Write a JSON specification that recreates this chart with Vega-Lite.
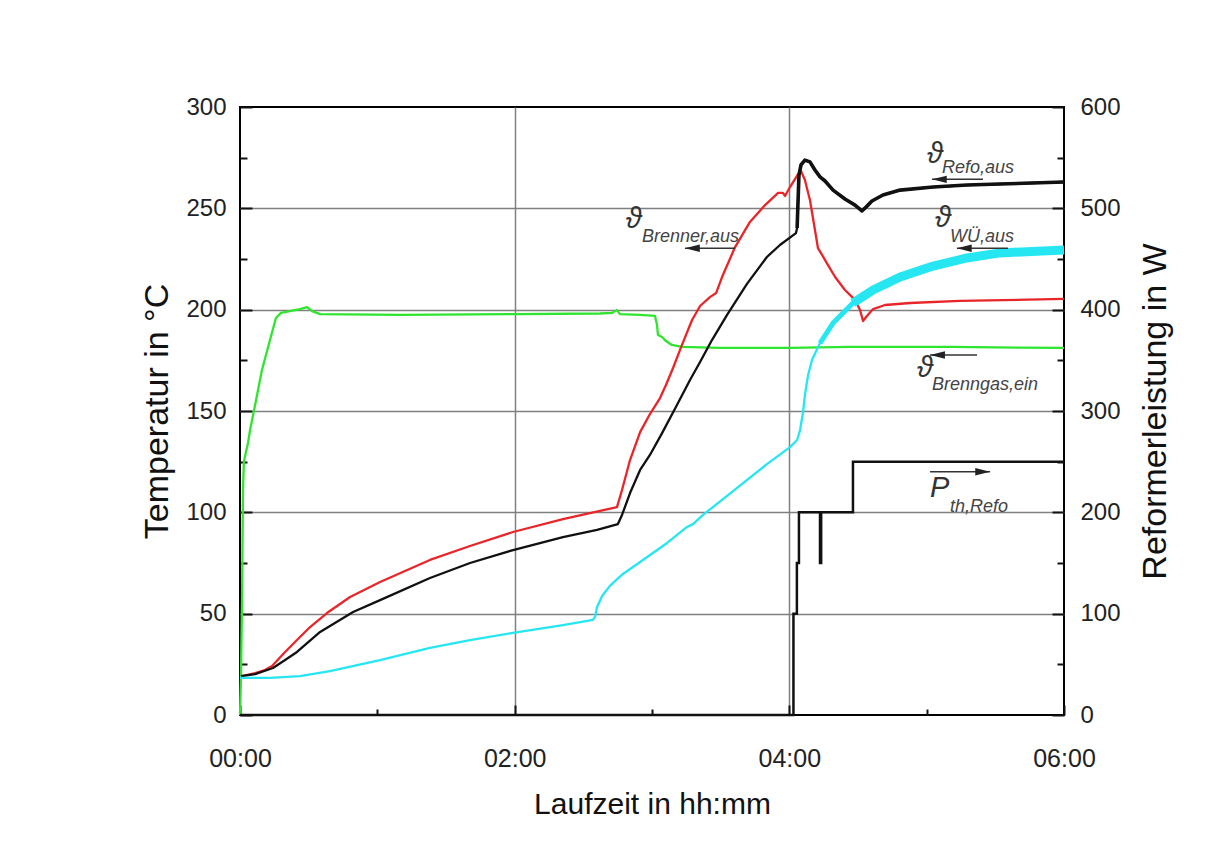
{
  "$schema": "https://vega.github.io/schema/vega-lite/v6.json",
  "width": 824,
  "height": 608,
  "autosize": {"type": "none"},
  "padding": {"left": 240, "top": 107, "right": 166, "bottom": 133},
  "background": "white",
  "config": {
    "view": {"stroke": "#000", "strokeWidth": 2},
    "axis": {
      "domain": false,
      "tickColor": "#111",
      "tickWidth": 2,
      "labelFont": "Liberation Sans",
      "labelColor": "#222",
      "titleFont": "Liberation Sans",
      "titleFontWeight": "normal",
      "titleColor": "#111",
      "gridColor": "#808080",
      "gridWidth": 1.5,
      "labelOverlap": false,
      "labelFlush": false
    }
  },
  "datasets": {
    "temp": [
      {"s": "Brenngas", "t": 0, "v": 0},
      {"s": "Brenngas", "t": 0.4, "v": 17.3},
      {"s": "Brenngas", "t": 0.9, "v": 56.7},
      {"s": "Brenngas", "t": 1.3, "v": 111},
      {"s": "Brenngas", "t": 1.7, "v": 124.8},
      {"s": "Brenngas", "t": 2.6, "v": 129.8},
      {"s": "Brenngas", "t": 3.5, "v": 134.2},
      {"s": "Brenngas", "t": 4.4, "v": 140.6},
      {"s": "Brenngas", "t": 6.6, "v": 153},
      {"s": "Brenngas", "t": 9.6, "v": 170.2},
      {"s": "Brenngas", "t": 13.1, "v": 185},
      {"s": "Brenngas", "t": 15.7, "v": 195.9},
      {"s": "Brenngas", "t": 17.9, "v": 198.4},
      {"s": "Brenngas", "t": 21.8, "v": 199.3},
      {"s": "Brenngas", "t": 26.2, "v": 200.3},
      {"s": "Brenngas", "t": 29.3, "v": 201.3},
      {"s": "Brenngas", "t": 31.5, "v": 199.3},
      {"s": "Brenngas", "t": 35, "v": 197.8},
      {"s": "Brenngas", "t": 69.9, "v": 197.4},
      {"s": "Brenngas", "t": 120.1, "v": 197.8},
      {"s": "Brenngas", "t": 157.3, "v": 198.1},
      {"s": "Brenngas", "t": 162.5, "v": 198.4},
      {"s": "Brenngas", "t": 164.7, "v": 199.8},
      {"s": "Brenngas", "t": 166, "v": 197.8},
      {"s": "Brenngas", "t": 174.8, "v": 197.4},
      {"s": "Brenngas", "t": 181.3, "v": 196.9},
      {"s": "Brenngas", "t": 182.2, "v": 192.4},
      {"s": "Brenngas", "t": 182.6, "v": 187.5},
      {"s": "Brenngas", "t": 184.4, "v": 186.5},
      {"s": "Brenngas", "t": 186.1, "v": 184.5},
      {"s": "Brenngas", "t": 188.7, "v": 182.6},
      {"s": "Brenngas", "t": 193.1, "v": 181.6},
      {"s": "Brenngas", "t": 209.7, "v": 181.1},
      {"s": "Brenngas", "t": 240.3, "v": 181.1},
      {"s": "Brenngas", "t": 266.5, "v": 181.6},
      {"s": "Brenngas", "t": 310.2, "v": 181.6},
      {"s": "Brenngas", "t": 360, "v": 181.1},

      {"s": "Brenner", "t": 0.9, "v": 19.2},
      {"s": "Brenner", "t": 6.6, "v": 20.7},
      {"s": "Brenner", "t": 10.9, "v": 22.2},
      {"s": "Brenner", "t": 14, "v": 24.2},
      {"s": "Brenner", "t": 19.7, "v": 31.1},
      {"s": "Brenner", "t": 24.9, "v": 37},
      {"s": "Brenner", "t": 30.6, "v": 43.4},
      {"s": "Brenner", "t": 38, "v": 50.3},
      {"s": "Brenner", "t": 48.1, "v": 58.2},
      {"s": "Brenner", "t": 61.2, "v": 65.6},
      {"s": "Brenner", "t": 83, "v": 76.5},
      {"s": "Brenner", "t": 100.5, "v": 83.4},
      {"s": "Brenner", "t": 119.3, "v": 90.3},
      {"s": "Brenner", "t": 141.1, "v": 96.7},
      {"s": "Brenner", "t": 157.3, "v": 100.7},
      {"s": "Brenner", "t": 164.7, "v": 102.6},
      {"s": "Brenner", "t": 166.9, "v": 111},
      {"s": "Brenner", "t": 170.4, "v": 125.8},
      {"s": "Brenner", "t": 174.8, "v": 139.6},
      {"s": "Brenner", "t": 179.1, "v": 148.5},
      {"s": "Brenner", "t": 183.5, "v": 156.4},
      {"s": "Brenner", "t": 186.1, "v": 162.8},
      {"s": "Brenner", "t": 189.2, "v": 171.2},
      {"s": "Brenner", "t": 193.1, "v": 182.6},
      {"s": "Brenner", "t": 197.5, "v": 194.9},
      {"s": "Brenner", "t": 201, "v": 201.8},
      {"s": "Brenner", "t": 205.3, "v": 206.2},
      {"s": "Brenner", "t": 208, "v": 208.2},
      {"s": "Brenner", "t": 210.6, "v": 216.1},
      {"s": "Brenner", "t": 216.3, "v": 230.9},
      {"s": "Brenner", "t": 222.8, "v": 243.3},
      {"s": "Brenner", "t": 229.4, "v": 251.6},
      {"s": "Brenner", "t": 235.1, "v": 257.6},
      {"s": "Brenner", "t": 237.2, "v": 257.6},
      {"s": "Brenner", "t": 238.1, "v": 256.1},
      {"s": "Brenner", "t": 240.3, "v": 260.5},
      {"s": "Brenner", "t": 243.8, "v": 266.9},
      {"s": "Brenner", "t": 245.1, "v": 268.4},
      {"s": "Brenner", "t": 246.8, "v": 264},
      {"s": "Brenner", "t": 249, "v": 254.1},
      {"s": "Brenner", "t": 251.2, "v": 239.3},
      {"s": "Brenner", "t": 252.5, "v": 230.4},
      {"s": "Brenner", "t": 254.3, "v": 227},
      {"s": "Brenner", "t": 256.9, "v": 222},
      {"s": "Brenner", "t": 260, "v": 216.1},
      {"s": "Brenner", "t": 264.3, "v": 209.7},
      {"s": "Brenner", "t": 268.7, "v": 204.8},
      {"s": "Brenner", "t": 270.9, "v": 199.8},
      {"s": "Brenner", "t": 272.2, "v": 194.4},
      {"s": "Brenner", "t": 273.9, "v": 196.9},
      {"s": "Brenner", "t": 276.6, "v": 200.3},
      {"s": "Brenner", "t": 281.8, "v": 202.3},
      {"s": "Brenner", "t": 292.7, "v": 203.3},
      {"s": "Brenner", "t": 314.6, "v": 204.3},
      {"s": "Brenner", "t": 360, "v": 205.3},

      {"s": "Refo", "t": 0.4, "v": 19.2},
      {"s": "Refo", "t": 6.6, "v": 20.2},
      {"s": "Refo", "t": 14.4, "v": 23.2},
      {"s": "Refo", "t": 19.7, "v": 27.1},
      {"s": "Refo", "t": 24.9, "v": 31.1},
      {"s": "Refo", "t": 35, "v": 41},
      {"s": "Refo", "t": 49.4, "v": 50.8},
      {"s": "Refo", "t": 61.2, "v": 56.7},
      {"s": "Refo", "t": 83, "v": 67.6},
      {"s": "Refo", "t": 100.5, "v": 75},
      {"s": "Refo", "t": 119.3, "v": 81.4},
      {"s": "Refo", "t": 141.1, "v": 87.8},
      {"s": "Refo", "t": 156, "v": 91.3},
      {"s": "Refo", "t": 165.1, "v": 94.2},
      {"s": "Refo", "t": 166.9, "v": 98.7},
      {"s": "Refo", "t": 170.4, "v": 109.5},
      {"s": "Refo", "t": 174.8, "v": 120.9},
      {"s": "Refo", "t": 179.1, "v": 128.3},
      {"s": "Refo", "t": 184.4, "v": 139.1},
      {"s": "Refo", "t": 190.9, "v": 153},
      {"s": "Refo", "t": 196.6, "v": 165.3},
      {"s": "Refo", "t": 201, "v": 174.2},
      {"s": "Refo", "t": 206.2, "v": 185},
      {"s": "Refo", "t": 212.8, "v": 197.4},
      {"s": "Refo", "t": 221.5, "v": 212.7},
      {"s": "Refo", "t": 230.2, "v": 226},
      {"s": "Refo", "t": 235.9, "v": 231.9},
      {"s": "Refo", "t": 242.9, "v": 237.8},
      {"s": "Refo", "t": 243.4, "v": 240.3},
      {"s": "Refo", "t": 244.2, "v": 266.4},
      {"s": "Refo", "t": 245.1, "v": 271.4},
      {"s": "Refo", "t": 246.8, "v": 273.8},
      {"s": "Refo", "t": 249, "v": 272.9},
      {"s": "Refo", "t": 251.2, "v": 268.9},
      {"s": "Refo", "t": 253.4, "v": 265.5},
      {"s": "Refo", "t": 255.6, "v": 263.5},
      {"s": "Refo", "t": 259.1, "v": 259},
      {"s": "Refo", "t": 264.3, "v": 254.6},
      {"s": "Refo", "t": 268.7, "v": 251.6},
      {"s": "Refo", "t": 271.7, "v": 248.7},
      {"s": "Refo", "t": 273.5, "v": 250.6},
      {"s": "Refo", "t": 276.1, "v": 253.6},
      {"s": "Refo", "t": 280.9, "v": 256.6},
      {"s": "Refo", "t": 288.4, "v": 259},
      {"s": "Refo", "t": 302.8, "v": 260.5},
      {"s": "Refo", "t": 317.6, "v": 261.5},
      {"s": "Refo", "t": 332, "v": 262},
      {"s": "Refo", "t": 360, "v": 263},

      {"s": "WU", "t": 0, "v": 18.3},
      {"s": "WU", "t": 13.1, "v": 18.3},
      {"s": "WU", "t": 26.2, "v": 19.2},
      {"s": "WU", "t": 39.3, "v": 21.7},
      {"s": "WU", "t": 61.2, "v": 27.1},
      {"s": "WU", "t": 83, "v": 33.1},
      {"s": "WU", "t": 100.5, "v": 37},
      {"s": "WU", "t": 119.3, "v": 40.5},
      {"s": "WU", "t": 141.1, "v": 44.4},
      {"s": "WU", "t": 154.2, "v": 46.9},
      {"s": "WU", "t": 155.1, "v": 48.4},
      {"s": "WU", "t": 156, "v": 53.3},
      {"s": "WU", "t": 158.2, "v": 58.7},
      {"s": "WU", "t": 161.6, "v": 63.7},
      {"s": "WU", "t": 167.3, "v": 69.6},
      {"s": "WU", "t": 174.8, "v": 75.5},
      {"s": "WU", "t": 186.6, "v": 84.9},
      {"s": "WU", "t": 195.3, "v": 92.8},
      {"s": "WU", "t": 197.9, "v": 94.2},
      {"s": "WU", "t": 202.3, "v": 98.7},
      {"s": "WU", "t": 215.4, "v": 110.5},
      {"s": "WU", "t": 230.2, "v": 123.8},
      {"s": "WU", "t": 240.3, "v": 132.2},
      {"s": "WU", "t": 243.4, "v": 135.7},
      {"s": "WU", "t": 244.7, "v": 140.6},
      {"s": "WU", "t": 246, "v": 149.5},
      {"s": "WU", "t": 246.8, "v": 157.9},
      {"s": "WU", "t": 248.2, "v": 167.8},
      {"s": "WU", "t": 249.9, "v": 175.2},
      {"s": "WU", "t": 253.4, "v": 183.5},
      {"s": "WU", "t": 259.1, "v": 193.4},
      {"s": "WU", "t": 267.8, "v": 203.3},
      {"s": "WU", "t": 276.6, "v": 209.7},
      {"s": "WU", "t": 288.4, "v": 216.1},
      {"s": "WU", "t": 302.8, "v": 221.5},
      {"s": "WU", "t": 317.6, "v": 225.5},
      {"s": "WU", "t": 332, "v": 228},
      {"s": "WU", "t": 360, "v": 229.4}
    ],
    "power": [
      {"t": 0, "w": 0},
      {"t": 241.8, "w": 100},
      {"t": 243.3, "w": 150},
      {"t": 244.2, "w": 200},
      {"t": 253.4, "w": 150},
      {"t": 253.9, "w": 200},
      {"t": 267.8, "w": 250},
      {"t": 360, "w": 250}
    ],
    "symbols": [
      {"t": 300.1, "v": 272.4, "txt": "ϑ"},
      {"t": 303.6, "v": 240.8, "txt": "ϑ"},
      {"t": 168.5, "v": 240.3, "txt": "ϑ"},
      {"t": 295.8, "v": 166.8, "txt": "ϑ"},
      {"t": 301.5, "v": 107.7, "txt": "P"}
    ],
    "subscripts": [
      {"t": 306.7, "v": 267.4, "txt": "Refo,aus"},
      {"t": 310.2, "v": 233.4, "txt": "WÜ,aus"},
      {"t": 175.6, "v": 233.5, "txt": "Brenner,aus"},
      {"t": 302.3, "v": 160.4, "txt": "Brenngas,ein"},
      {"t": 310.2, "v": 100.3, "txt": "th,Refo"}
    ],
    "arrows": [
      {"t": 302.3, "tail": 324.6, "v": 264.3, "dir": "left"},
      {"t": 313.2, "tail": 335.5, "v": 230.3, "dir": "left"},
      {"t": 194.4, "tail": 216.3, "v": 230.3, "dir": "left"},
      {"t": 301.5, "tail": 322, "v": 177.6, "dir": "left"},
      {"t": 327.7, "tail": 301.5, "v": 120, "dir": "right"}
    ]
  },
  "encoding": {
    "x": {
      "field": "t",
      "type": "quantitative",
      "scale": {"domain": [0, 360], "nice": false, "zero": false},
      "axis": {
        "title": "Laufzeit in hh:mm",
        "values": [0, 60, 120, 180, 240, 300, 360],
        "labelExpr": "datum.value % 120 === 0 ? '0' + floor(datum.value / 60) + ':00' : ''",
        "grid": true,
        "gridOpacity": {"condition": {"test": "datum.value === 120 || datum.value === 240", "value": 1}, "value": 0},
        "tickSize": {"condition": {"test": "datum.value % 120 === 0", "value": -10}, "value": -6},
        "labelFontSize": 25,
        "labelPadding": 41,
        "titleFontSize": 30,
        "titlePadding": 14
      }
    }
  },
  "layer": [
    {
      "encoding": {
        "y": {
          "field": "v",
          "type": "quantitative",
          "scale": {"domain": [0, 300], "nice": false},
          "axis": {
            "title": "Temperatur in °C",
            "orient": "left",
            "values": [0, 25, 50, 75, 100, 125, 150, 175, 200, 225, 250, 275, 300],
            "labelExpr": "datum.value % 50 === 0 ? datum.label : ''",
            "grid": true,
            "gridOpacity": {"condition": {"test": "datum.value % 50 === 0 && datum.value > 0 && datum.value < 300", "value": 1}, "value": 0},
            "tickSize": {"condition": {"test": "datum.value % 50 === 0", "value": -12}, "value": -7},
            "labelFontSize": 24,
            "labelPadding": 26,
            "titleFontSize": 34,
            "titlePadding": 11
          }
        }
      },
      "layer": [
        {
          "data": {"name": "temp"},
          "mark": {"type": "line", "strokeWidth": 2.3, "strokeJoin": "round"},
          "encoding": {
            "color": {
              "field": "s",
              "type": "nominal",
              "scale": {"domain": ["Brenngas", "Brenner", "Refo", "WU"], "range": ["#2fe52f", "#e8262a", "#111111", "#26e6f2"]},
              "legend": null
            }
          }
        },
        {
          "data": {"name": "temp"},
          "transform": [{"filter": "datum.s === 'Refo' && datum.t >= 243.4"}],
          "mark": {"type": "line", "strokeWidth": 3.6, "strokeJoin": "round", "color": "#111111"},
          "encoding": {}
        },
        {
          "data": {"name": "temp"},
          "transform": [{"filter": "datum.s === 'WU' && datum.t >= 250"}],
          "mark": {"type": "line", "strokeWidth": 5, "strokeJoin": "round", "color": "#26e6f2"},
          "encoding": {}
        },
        {
          "data": {"name": "temp"},
          "transform": [{"filter": "datum.s === 'WU' && datum.t >= 266"}],
          "mark": {"type": "line", "strokeWidth": 9, "strokeJoin": "round", "color": "#26e6f2"},
          "encoding": {}
        },
        {
          "data": {"name": "arrows"},
          "mark": {"type": "rule", "color": "#333333", "strokeWidth": 1.5},
          "encoding": {"x2": {"field": "tail"}}
        },
        {
          "data": {"name": "arrows"},
          "mark": {"type": "point", "filled": true, "opacity": 1, "color": "#222222", "size": 220},
          "encoding": {
            "shape": {
              "field": "dir",
              "type": "nominal",
              "scale": {"domain": ["left", "right"], "range": ["M0,0L2,-0.5L2,0.5Z", "M0,0L-2,-0.5L-2,0.5Z"]},
              "legend": null
            }
          }
        },
        {
          "data": {"name": "symbols"},
          "mark": {"type": "text", "align": "left", "baseline": "alphabetic", "font": "Liberation Sans, DejaVu Sans", "fontSize": 29, "fontStyle": "italic", "color": "#333333"},
          "encoding": {"text": {"field": "txt"}}
        },
        {
          "data": {"name": "subscripts"},
          "mark": {"type": "text", "align": "left", "baseline": "alphabetic", "font": "Liberation Sans", "fontSize": 18, "fontStyle": "italic", "color": "#444444"},
          "encoding": {"text": {"field": "txt"}}
        }
      ]
    },
    {
      "data": {"name": "power"},
      "mark": {"type": "line", "interpolate": "step-after", "strokeWidth": 2.5, "color": "#111111"},
      "encoding": {
        "y": {
          "field": "w",
          "type": "quantitative",
          "scale": {"domain": [0, 600], "nice": false},
          "axis": {
            "title": "Reformerleistung in W",
            "orient": "right",
            "titleAngle": 270,
            "values": [0, 50, 100, 150, 200, 250, 300, 350, 400, 450, 500, 550, 600],
            "labelExpr": "datum.value % 100 === 0 ? datum.label : ''",
            "grid": false,
            "tickSize": {"condition": {"test": "datum.value % 100 === 0", "value": -12}, "value": -7},
            "labelFontSize": 24,
            "labelPadding": 28,
            "titleFontSize": 34,
            "titlePadding": 52
          }
        }
      }
    }
  ],
  "resolve": {"scale": {"y": "independent"}}
}
